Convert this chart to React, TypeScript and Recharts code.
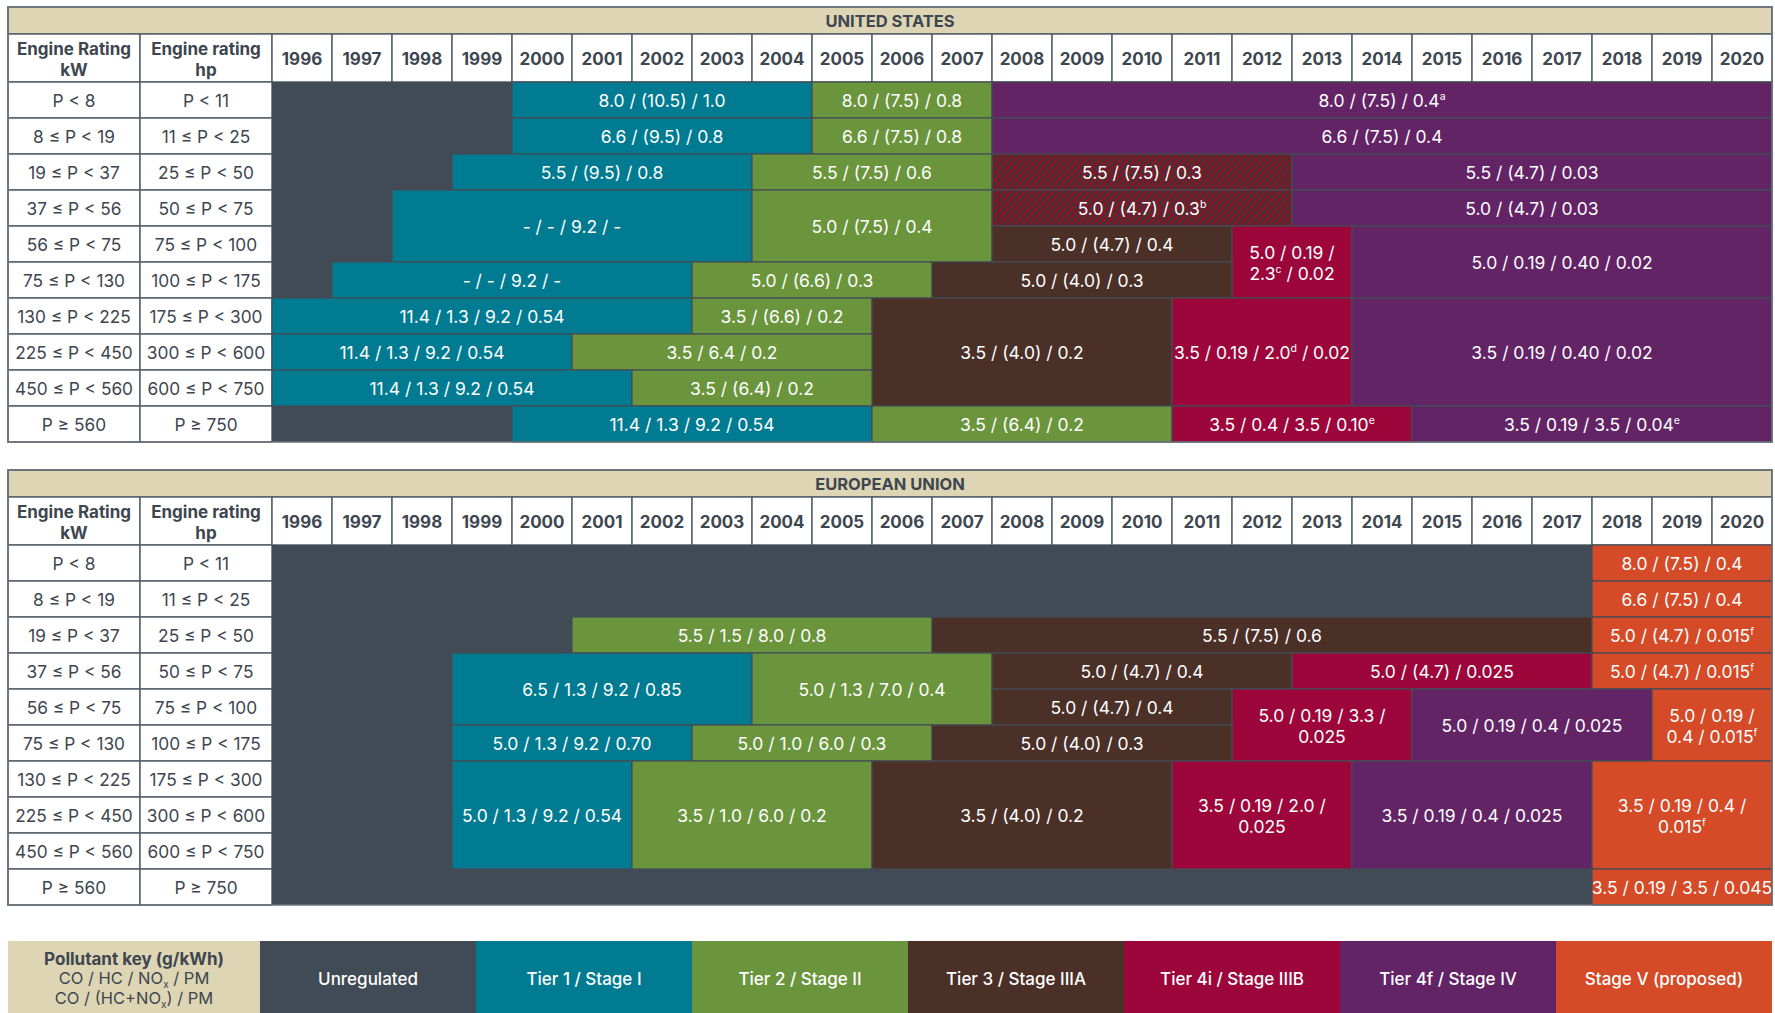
import React from "react";
import { ComposedChart, XAxis, YAxis, ReferenceArea, Scatter } from "recharts";

// tick labels / categories
const years = [
  "1996", "1997", "1998", "1999", "2000", "2001", "2002", "2003", "2004", "2005",
  "2006", "2007", "2008", "2009", "2010", "2011", "2012", "2013", "2014", "2015",
  "2016", "2017", "2018", "2019", "2020",
];
const kwBands = [
  "P < 8", "8 ≤ P < 19", "19 ≤ P < 37", "37 ≤ P < 56", "56 ≤ P < 75",
  "75 ≤ P < 130", "130 ≤ P < 225", "225 ≤ P < 450", "450 ≤ P < 560", "P ≥ 560",
];
const hpBands = [
  "P < 11", "11 ≤ P < 25", "25 ≤ P < 50", "50 ≤ P < 75", "75 ≤ P < 100",
  "100 ≤ P < 175", "175 ≤ P < 300", "300 ≤ P < 600", "600 ≤ P < 750", "P ≥ 750",
];
const tierNames = [
  "Unregulated", "Tier 1 / Stage I", "Tier 2 / Stage II", "Tier 3 / Stage IIIA",
  "Tier 4i / Stage IIIB", "Tier 4f / Stage IV", "Stage V (proposed)",
];
const tierKeys = ["unreg", "t1", "t2", "t3", "t4i", "t4f", "s5"];

// [tier, first year, year after last, first row, row after last, limits]
type Block = [string, number, number, number, number, string];

const usBlocks: Block[] = [
  ["t1", 2000, 2005, 0, 1, "8.0 / (10.5) / 1.0"],
  ["t2", 2005, 2008, 0, 1, "8.0 / (7.5) / 0.8"],
  ["t4f", 2008, 2021, 0, 1, "8.0 / (7.5) / 0.4^a"],
  ["t1", 2000, 2005, 1, 2, "6.6 / (9.5) / 0.8"],
  ["t2", 2005, 2008, 1, 2, "6.6 / (7.5) / 0.8"],
  ["t4f", 2008, 2021, 1, 2, "6.6 / (7.5) / 0.4"],
  ["t1", 1999, 2004, 2, 3, "5.5 / (9.5) / 0.8"],
  ["t2", 2004, 2008, 2, 3, "5.5 / (7.5) / 0.6"],
  ["hatch", 2008, 2013, 2, 3, "5.5 / (7.5) / 0.3"],
  ["t4f", 2013, 2021, 2, 3, "5.5 / (4.7) / 0.03"],
  ["t1", 1998, 2004, 3, 5, "- / - / 9.2 / -"],
  ["t2", 2004, 2008, 3, 5, "5.0 / (7.5) / 0.4"],
  ["hatch", 2008, 2013, 3, 4, "5.0 / (4.7) / 0.3^b"],
  ["t4f", 2013, 2021, 3, 4, "5.0 / (4.7) / 0.03"],
  ["t3", 2008, 2012, 4, 5, "5.0 / (4.7) / 0.4"],
  ["t4i", 2012, 2014, 4, 6, "5.0 / 0.19 /\n2.3^c / 0.02"],
  ["t4f", 2014, 2021, 4, 6, "5.0 / 0.19 / 0.40 / 0.02"],
  ["t1", 1997, 2003, 5, 6, "- / - / 9.2 / -"],
  ["t2", 2003, 2007, 5, 6, "5.0 / (6.6) / 0.3"],
  ["t3", 2007, 2012, 5, 6, "5.0 / (4.0) / 0.3"],
  ["t1", 1996, 2003, 6, 7, "11.4 / 1.3 / 9.2 / 0.54"],
  ["t2", 2003, 2006, 6, 7, "3.5 / (6.6) / 0.2"],
  ["t3", 2006, 2011, 6, 9, "3.5 / (4.0) / 0.2"],
  ["t4i", 2011, 2014, 6, 9, "3.5 / 0.19 / 2.0^d / 0.02"],
  ["t4f", 2014, 2021, 6, 9, "3.5 / 0.19 / 0.40 / 0.02"],
  ["t1", 1996, 2001, 7, 8, "11.4 / 1.3 / 9.2 / 0.54"],
  ["t2", 2001, 2006, 7, 8, "3.5 / 6.4 / 0.2"],
  ["t1", 1996, 2002, 8, 9, "11.4 / 1.3 / 9.2 / 0.54"],
  ["t2", 2002, 2006, 8, 9, "3.5 / (6.4) / 0.2"],
  ["t1", 2000, 2006, 9, 10, "11.4 / 1.3 / 9.2 / 0.54"],
  ["t2", 2006, 2011, 9, 10, "3.5 / (6.4) / 0.2"],
  ["t4i", 2011, 2015, 9, 10, "3.5 / 0.4 / 3.5 / 0.10^e"],
  ["t4f", 2015, 2021, 9, 10, "3.5 / 0.19 / 3.5 / 0.04^e"],
];

const euBlocks: Block[] = [
  ["s5", 2018, 2021, 0, 1, "8.0 / (7.5) / 0.4"],
  ["s5", 2018, 2021, 1, 2, "6.6 / (7.5) / 0.4"],
  ["t2", 2001, 2007, 2, 3, "5.5 / 1.5 / 8.0 / 0.8"],
  ["t3", 2007, 2018, 2, 3, "5.5 / (7.5) / 0.6"],
  ["s5", 2018, 2021, 2, 3, "5.0 / (4.7) / 0.015^f"],
  ["t1", 1999, 2004, 3, 5, "6.5 / 1.3 / 9.2 / 0.85"],
  ["t2", 2004, 2008, 3, 5, "5.0 / 1.3 / 7.0 / 0.4"],
  ["t3", 2008, 2013, 3, 4, "5.0 / (4.7) / 0.4"],
  ["t4i", 2013, 2018, 3, 4, "5.0 / (4.7) / 0.025"],
  ["s5", 2018, 2021, 3, 4, "5.0 / (4.7) / 0.015^f"],
  ["t3", 2008, 2012, 4, 5, "5.0 / (4.7) / 0.4"],
  ["t4i", 2012, 2015, 4, 6, "5.0 / 0.19 / 3.3 /\n0.025"],
  ["t4f", 2015, 2019, 4, 6, "5.0 / 0.19 / 0.4 / 0.025"],
  ["s5", 2019, 2021, 4, 6, "5.0 / 0.19 /\n0.4 / 0.015^f"],
  ["t1", 1999, 2003, 5, 6, "5.0 / 1.3 / 9.2 / 0.70"],
  ["t2", 2003, 2007, 5, 6, "5.0 / 1.0 / 6.0 / 0.3"],
  ["t3", 2007, 2012, 5, 6, "5.0 / (4.0) / 0.3"],
  ["t1", 1999, 2002, 6, 9, "5.0 / 1.3 / 9.2 / 0.54"],
  ["t2", 2002, 2006, 6, 9, "3.5 / 1.0 / 6.0 / 0.2"],
  ["t3", 2006, 2011, 6, 9, "3.5 / (4.0) / 0.2"],
  ["t4i", 2011, 2014, 6, 9, "3.5 / 0.19 / 2.0 /\n0.025"],
  ["t4f", 2014, 2018, 6, 9, "3.5 / 0.19 / 0.4 / 0.025"],
  ["s5", 2018, 2021, 6, 9, "3.5 / 0.19 / 0.4 /\n0.015^f"],
  ["s5", 2018, 2021, 9, 10, "3.5 / 0.19 / 3.5 / 0.045"],
];

const COLORS: Record<string, string> = {
  unreg: "#414b55",
  t1: "#007b91",
  t2: "#6b953d",
  t3: "#4b3028",
  t4i: "#9d063a",
  t4f: "#632466",
  s5: "#d54a27",
  hatch: "url(#hatch)",
};
const BEIGE = "#ddd5b3";
const INK = "#3e4650";
const GRID = "#56606a";
const FONT = "Inter, 'Open Sans', sans-serif";

// layout in axis units: years are 1 unit wide, rows 1 unit tall
const X0 = 1991.6;
const X_HP = 1993.8;
const X1 = 2021;
const Y_TITLE = -75 / 36;
const Y_HEAD = -48 / 36;

// one anchor point per rating band so the chart has data to scale
const rowPoints = kwBands.map((kw, i) => ({ x: 1996, y: i + 0.5, kw }));

function renderText(text: string, cx: number, cy: number, size: number, color: string, weight: number) {
  const lines = text.split("\n");
  const lh = size * 1.22;
  return (
    <text textAnchor="middle" fontFamily={FONT} fontSize={size} fontWeight={weight} fill={color}>
      {lines.map((ln, i) => {
        const base = cy + (i - (lines.length - 1) / 2) * lh + size * 0.42;
        const parts = ln.split(/\^(\w)/);
        return (
          <tspan key={i} x={cx} y={base}>
            {parts.map((p, j) =>
              j % 2 ? (
                <tspan key={j} fontSize={size * 0.6} dy={-size * 0.4}>{p}</tspan>
              ) : (
                <tspan key={j} dy={j > 0 ? size * 0.4 : 0}>{p}</tspan>
              )
            )}
          </tspan>
        );
      })}
    </text>
  );
}

type CellOpts = {
  fill: string;
  text?: string;
  stroke?: string;
  sw?: number;
  color?: string;
  size?: number;
  weight?: number;
};

const cellShape = (o: CellOpts) => (p: any) => {
  const { x, y, width, height } = p;
  return (
    <g>
      <rect x={x} y={y} width={width} height={height} fill={o.fill}
        stroke={o.stroke ?? "none"} strokeWidth={o.sw ?? 0} />
      {o.text
        ? renderText(o.text, x + width / 2, y + height / 2, o.size ?? 17.5, o.color ?? "#ffffff", o.weight ?? 400)
        : null}
    </g>
  );
};

function RegionTable({ title, blocks }: { title: string; blocks: Block[] }) {
  return (
    <ComposedChart width={1775} height={450} data={rowPoints} margin={{ top: 7, right: 3, bottom: 8, left: 8 }}>
      <defs>
        <pattern id="hatch" patternUnits="userSpaceOnUse" width="5" height="5" patternTransform="rotate(45)">
          <rect width="5" height="5" fill={COLORS.t3} />
          <rect width="1.7" height="5" fill={COLORS.t4i} />
        </pattern>
      </defs>
      <XAxis dataKey="x" type="number" domain={[X0, X1]} hide allowDataOverflow />
      <YAxis dataKey="y" type="number" domain={[Y_TITLE, 10]} reversed hide allowDataOverflow />

      <ReferenceArea x1={X0} x2={X1} y1={Y_TITLE} y2={Y_HEAD} ifOverflow="visible"
        shape={cellShape({ fill: BEIGE, stroke: GRID, sw: 1.5, text: title, color: INK, size: 16.5, weight: 700 })} />

      <ReferenceArea x1={X0} x2={X_HP} y1={Y_HEAD} y2={0} ifOverflow="visible"
        shape={cellShape({ fill: "#ffffff", stroke: GRID, sw: 1.5, text: "Engine Rating\nkW", color: INK, size: 17, weight: 700 })} />
      <ReferenceArea x1={X_HP} x2={1996} y1={Y_HEAD} y2={0} ifOverflow="visible"
        shape={cellShape({ fill: "#ffffff", stroke: GRID, sw: 1.5, text: "Engine rating\nhp", color: INK, size: 17, weight: 700 })} />
      {years.map((yr) => (
        <ReferenceArea key={yr} x1={Number(yr)} x2={Number(yr) + 1} y1={Y_HEAD} y2={0}
          ifOverflow="visible"
          shape={cellShape({ fill: "#ffffff", stroke: GRID, sw: 1.5, text: yr, color: INK, size: 17, weight: 700 })} />
      ))}

      {kwBands.map((kw, i) => (
        <ReferenceArea key={"kw" + i} x1={X0} x2={X_HP} y1={i} y2={i + 1} ifOverflow="visible"
          shape={cellShape({ fill: "#ffffff", stroke: GRID, sw: 1.5, text: kw, color: INK, size: 17.3 })} />
      ))}
      {hpBands.map((hp, i) => (
        <ReferenceArea key={"hp" + i} x1={X_HP} x2={1996} y1={i} y2={i + 1} ifOverflow="visible"
          shape={cellShape({ fill: "#ffffff", stroke: GRID, sw: 1.5, text: hp, color: INK, size: 17.3 })} />
      ))}

      <ReferenceArea x1={1996} x2={X1} y1={0} y2={10} ifOverflow="visible"
        shape={cellShape({ fill: COLORS.unreg })} />

      {blocks.map((b, i) => (
        <ReferenceArea key={"b" + i} x1={b[1]} x2={b[2]} y1={b[3]} y2={b[4]}
          ifOverflow="visible"
          shape={cellShape({ fill: COLORS[b[0]], stroke: "#434c55", sw: 1.2, text: b[5] })} />
      ))}

      <ReferenceArea x1={X0} x2={X1} y1={Y_TITLE} y2={10} ifOverflow="visible"
        shape={cellShape({ fill: "none", stroke: "#6a737b", sw: 1.5 })} />

      <Scatter dataKey="y" fill="none" isAnimationActive={false} />
    </ComposedChart>
  );
}

const subX = { fontSize: 10, verticalAlign: "baseline", position: "relative" as const, top: 4 };

function KeyLegend() {
  return (
    <div style={{ position: "absolute", left: 8, top: 941, width: 1764, height: 72, display: "flex", fontFamily: FONT }}>
      <div style={{ width: 252, background: BEIGE, color: INK, fontSize: 16.5, lineHeight: "18.7px", paddingTop: 6,
        boxSizing: "border-box", display: "flex", flexDirection: "column", justifyContent: "center", alignItems: "center" }}>
        <div style={{ fontWeight: 700, fontSize: 17 }}>Pollutant key (g/kWh)</div>
        <div>CO / HC / NO<span style={subX}>x</span> / PM</div>
        <div>CO / (HC+NO<span style={subX}>x</span>) / PM</div>
      </div>
      {tierNames.map((name, i) => (
        <div key={name} style={{ width: 216, background: COLORS[tierKeys[i]], color: "#ffffff", fontSize: 17,
          fontWeight: 500, display: "flex", alignItems: "center", justifyContent: "center", paddingTop: 3,
          boxSizing: "border-box" }}>
          {name}
        </div>
      ))}
    </div>
  );
}

export default function App() {
  return (
    <div style={{ position: "absolute", left: 0, top: 0, width: 1775, height: 1013, background: "#ffffff" }}>
      <div style={{ position: "absolute", left: 0, top: 0 }}>
        <RegionTable title="UNITED STATES" blocks={usBlocks} />
      </div>
      <div style={{ position: "absolute", left: 0, top: 463 }}>
        <RegionTable title="EUROPEAN UNION" blocks={euBlocks} />
      </div>
      <KeyLegend />
    </div>
  );
}
